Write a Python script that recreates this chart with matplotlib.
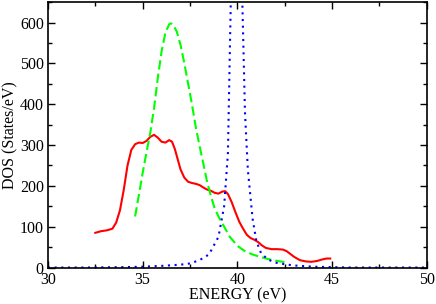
import matplotlib
matplotlib.use("Agg")
import matplotlib.pyplot as plt
from matplotlib.ticker import MultipleLocator

# total DOS (red, solid)
e_red = [32.5, 32.8, 33.1, 33.4, 33.6, 33.8, 34.0, 34.2, 34.4, 34.6, 34.8, 35.0,
         35.2, 35.4, 35.6, 35.8, 36.0, 36.2, 36.4, 36.55, 36.7, 36.85, 37.0, 37.2,
         37.4, 37.6, 37.8, 38.0, 38.2, 38.4, 38.6, 38.8, 39.0, 39.2, 39.35, 39.5,
         39.7, 39.9, 40.1, 40.3, 40.5, 40.7, 40.9, 41.1, 41.3, 41.5, 41.8, 42.1,
         42.4, 42.6, 42.8, 43.0, 43.3, 43.6, 43.9, 44.2, 44.5, 44.7, 44.9]
dos_red = [85, 89, 91, 95, 110, 140, 190, 250, 288, 302, 306, 305,
           310, 320, 325, 318, 308, 306, 312, 308, 290, 265, 240, 220,
           210, 207, 205, 202, 196, 191, 188, 183, 181, 186, 187, 180,
           160, 135, 112, 95, 80, 72, 68, 62, 54, 48, 45, 45,
           44, 40, 33, 26, 18, 15, 14, 16, 20, 22, 22]

# green, dashed
e_green = [34.6, 34.8, 35.0, 35.2, 35.4, 35.6, 35.8, 36.0, 36.2, 36.4, 36.5, 36.6,
           36.8, 37.0, 37.2, 37.4, 37.6, 37.8, 38.0, 38.2, 38.4, 38.6, 38.8, 39.0,
           39.3, 39.6, 40.0, 40.4, 40.8, 41.2, 41.6, 42.0, 42.5]
dos_green = [125, 178, 232, 282, 330, 390, 465, 530, 575, 596, 598, 595,
             578, 545, 500, 450, 400, 345, 298, 255, 210, 175, 145, 125,
             100, 75, 53, 40, 32, 26, 21, 17, 13]

# blue, dotted (peak runs off the top)
e_blue = [30.0, 32.0, 34.0, 35.0, 36.0, 37.0, 37.5, 38.0, 38.5, 39.0, 39.3, 39.5,
          39.65, 39.8, 39.95, 40.1, 40.26, 40.4, 40.55, 40.8, 41.0, 41.25, 41.6,
          42.0, 42.5, 43.0, 44.0, 45.0, 46.0, 50.0]
dos_blue = [0, 0, 1, 2, 4, 7, 10, 18, 32, 75, 150, 280,
            650, 1000, 1200, 1000, 650, 380, 240, 120, 65, 35, 20,
            12, 8, 5, 2, 1, 0, 0]

plt.rcParams['font.family'] = ['Liberation Serif', 'DejaVu Serif']
plt.rcParams['font.size'] = 11.5

fig = plt.figure(figsize=(4.36, 3.04), dpi=100)
ax = fig.add_axes([0.110, 0.120, 0.869, 0.873])

ax.plot(e_red, dos_red, color='#ff0000', lw=1.5)
ax.plot(e_green, dos_green, color='#00ff00', lw=1.5, dashes=(4.5, 2))
ax.plot(e_blue, dos_blue, color='#0000ff', lw=1.5, dashes=(1, 2.2))

ax.set_xlim(30, 50)
ax.set_ylim(0, 650)
ax.xaxis.set_major_locator(MultipleLocator(5))
ax.xaxis.set_minor_locator(MultipleLocator(2.5))
ax.yaxis.set_major_locator(MultipleLocator(100))
ax.yaxis.set_minor_locator(MultipleLocator(50))
ax.tick_params(which='both', direction='in', top=True, right=True, width=1)
ax.tick_params(which='major', length=5, pad=3)
ax.tick_params(which='minor', length=3)
for s in ax.spines.values():
    s.set_linewidth(1.2)

ax.set_xlabel('ENERGY (eV)', labelpad=0)
ax.set_ylabel('DOS (States/eV)', labelpad=1)

fig.savefig('out.png', dpi=100)
